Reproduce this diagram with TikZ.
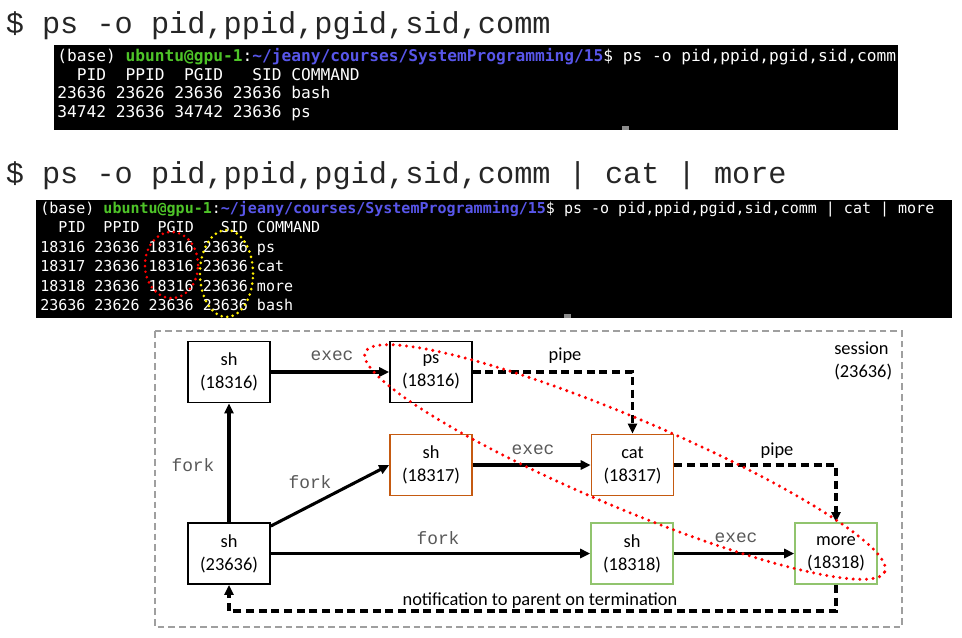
\documentclass[tikz,border=0pt]{standalone}
\usepackage{fontspec}
\usetikzlibrary{arrows.meta}
\setmainfont{Carlito}
\newfontfamily\titlefont{Liberation Mono}
\newfontfamily\termfont{DejaVu Sans Mono}
\newfontfamily\lblmono{Liberation Mono}
\definecolor{tgreen}{RGB}{78,196,40}
\definecolor{tblue}{RGB}{88,86,234}
\definecolor{boxorange}{RGB}{197,90,17}
\definecolor{boxgreen}{RGB}{145,196,110}
\definecolor{dotyellow}{RGB}{255,240,0}
\begin{document}
\begin{tikzpicture}[x=0.75pt,y=-0.75pt,
  ttl/.style={anchor=base west, inner sep=0pt, font=\titlefont\fontsize{22.7}{26}\selectfont, text=black!85},
  tline1/.style={anchor=base west, inner sep=0pt, text=white, font=\termfont\fontsize{12.15}{14}\selectfont\frenchspacing},
  tline2/.style={anchor=base west, inner sep=0pt, text=white, font=\termfont\fontsize{11.25}{13}\selectfont\frenchspacing},
  proc/.style={draw, line width=1.2pt, minimum width=61.5pt, minimum height=46pt, inner sep=0pt, align=center, font=\fontsize{13.8}{17.2}\selectfont},
  arr/.style={line width=2.3pt, -{Triangle[length=7.5pt,width=6.8pt]}},
  pipeln/.style={arr, dash pattern=on 6pt off 3.5pt},
  mlbl/.style={font=\lblmono\fontsize{13.4}{15}\selectfont, text=black!65, inner sep=0pt},
  clbl/.style={font=\fontsize{13.8}{17.2}\selectfont, inner sep=0pt},
  dotline/.style={line width=2.5pt, dash pattern=on 0pt off 5pt, line cap=round}
]
\useasboundingbox (0,0) rectangle (962,637);

% titles
\node[ttl] (title1) at (5.5,33) {\$ ps -o pid,ppid,pgid,sid,comm};
\node[ttl] (title2) at (5.5,183) {\$ ps -o pid,ppid,pgid,sid,comm | cat | more};

% terminal 1
\fill[black] (54,45) rectangle (898,130);
\node[tline1] (a1) at (57,61.5) {(base) \textcolor{tgreen}{\bfseries ubuntu@gpu-1}:\textcolor{tblue}{\bfseries\textasciitilde/jeany/courses/SystemProgramming/15}\$ ps -o pid,ppid,pgid,sid,comm};
\node[tline1] (a2) at (57,80) {\ \ PID\ \ PPID\ \ PGID\ \ \ SID COMMAND};
\node[tline1] (a3) at (57,98.7) {23636 23626 23636 23636 bash};
\node[tline1] (a4) at (57,117.4) {34742 23636 34742 23636 ps};
\fill[black!45] (622,126) rectangle (629,130);

% terminal 2
\fill[black] (36,200) rectangle (952,318);
\node[tline2] (b1) at (40,213.5) {(base) \textcolor{tgreen}{\bfseries ubuntu@gpu-1}:\textcolor{tblue}{\bfseries\textasciitilde/jeany/courses/SystemProgramming/15}\$ ps -o pid,ppid,pgid,sid,comm | cat | more};
\node[tline2] (b2) at (40,232.9) {\ \ PID\ \ PPID\ \ PGID\ \ \ SID COMMAND};
\node[tline2] (b3) at (40,252.3) {18316 23636 18316 23636 ps};
\node[tline2] (b4) at (40,271.7) {18317 23636 18316 23636 cat};
\node[tline2] (b5) at (40,291.1) {18318 23636 18316 23636 more};
\node[tline2] (b6) at (40,310.5) {23636 23626 23636 23636 bash};
\fill[black!45] (564,314) rectangle (571,318);
\draw[dotline, red, line width=2.2pt, dash pattern=on 0pt off 4.2pt] (171.5,265) ellipse [x radius=19.9pt, y radius=24.9pt];
\draw[dotline, dotyellow, line width=2.2pt, dash pattern=on 0pt off 4.2pt] (226.5,273.5) ellipse [x radius=19.9pt, y radius=32.6pt];

% session frame
\draw[gray!75, line width=0.9pt, dash pattern=on 5pt off 3pt] (155,331) rectangle (902,627);
\node[clbl, anchor=west, align=left] (sess) at (834,361) {session\\(23636)};

% processes
\node[proc] (sh1) at (229,372) {sh\\(18316)};
\node[proc] (ps) at (431,372) {ps\\(18316)};
\node[proc, draw=boxorange] (sh2) at (431,465) {sh\\(18317)};
\node[proc, draw=boxorange] (cat) at (632.5,465) {cat\\(18317)};
\node[proc] (sh0) at (229,553.5) {sh\\(23636)};
\node[proc, draw=boxgreen] (sh3) at (632,553.5) {sh\\(18318)};
\node[proc, draw=boxgreen] (more) at (836,553.5) {more\\(18318)};

% connectors
\draw[arr] (sh1) -- (ps);
\draw[arr] (sh2) -- (cat);
\draw[arr] (sh3) -- (more);
\draw[arr] (sh0) -- (sh1);
\draw[arr] ([yshift=-3pt]sh0.north east) -- (sh2.west);
\draw[arr] (sh0) -- (sh3);
\draw[pipeln] (ps.east) -| (cat.north);
\draw[pipeln] (cat.east) -| (more.north);
\draw[pipeln] (more.south) -- ++(0,26) -| (sh0.south);

% labels
\node[mlbl] (l1) at (332,356) {exec};
\node[mlbl] (l2) at (533,450) {exec};
\node[mlbl] (l3) at (736,538) {exec};
\node[mlbl] (l4) at (193,465) {fork};
\node[mlbl] (l5) at (310,482) {fork};
\node[mlbl] (l6) at (438,538) {fork};
\node[clbl] (p1) at (565,356) {pipe};
\node[clbl] (p2) at (777,451) {pipe};
\node[clbl] (n1) at (540,601) {notification to parent on termination};

% process group ellipse
\draw[dotline, red, rotate around={-22.9:(625,462)}] (625,462) ellipse [x radius=211.5pt, y radius=33.75pt];
\end{tikzpicture}
\end{document}
